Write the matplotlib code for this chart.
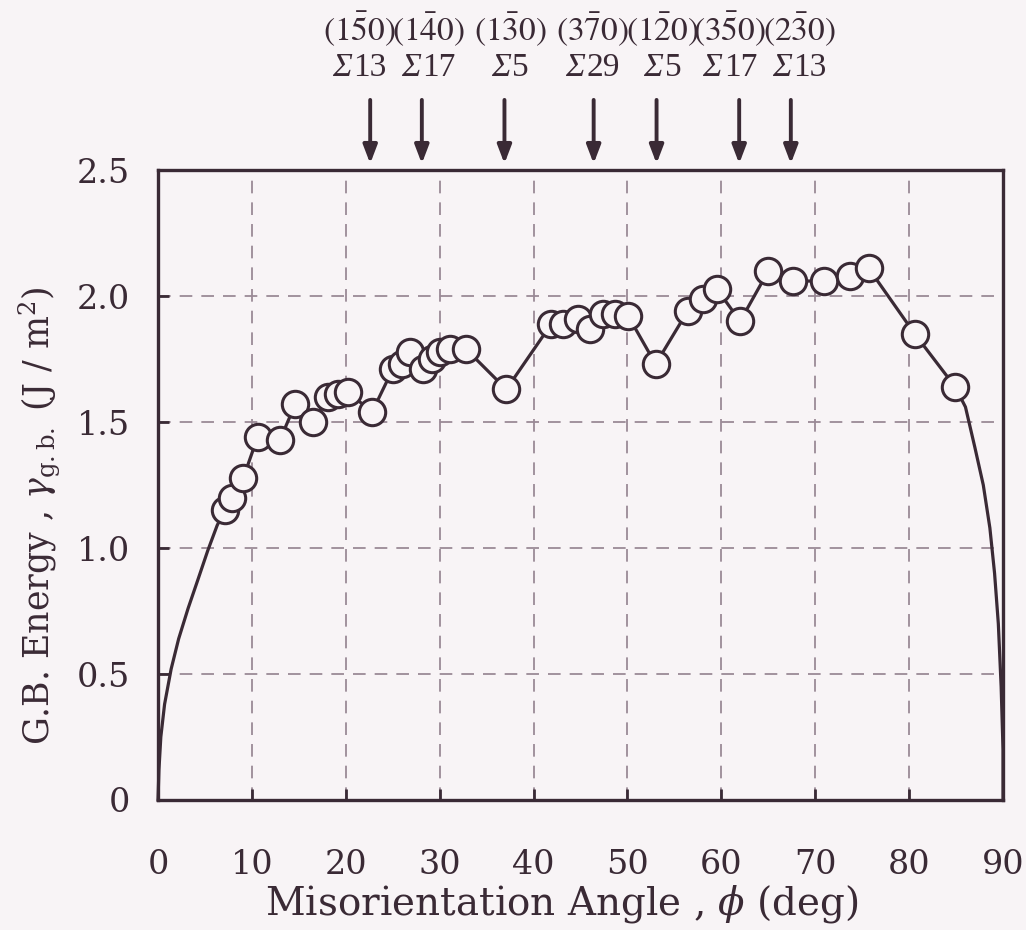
import matplotlib
matplotlib.use("Agg")
import matplotlib.pyplot as plt
from matplotlib.offsetbox import TextArea, HPacker, AnnotationBbox

plt.rcParams['font.family'] = ['DejaVu Serif']
plt.rcParams['mathtext.fontset'] = 'dejavuserif'

# measured grain boundary energies
angle = [7.1, 7.9, 9.1, 10.6, 13.0, 14.6, 16.5, 18.1, 19.2, 20.2, 22.8,
         25.0, 26.0, 26.8, 28.2, 29.2, 30.0, 31.1, 32.8, 37.1, 41.9, 43.1,
         44.7, 46.0, 47.4, 48.7, 50.1, 53.0, 56.4, 58.0, 59.5, 62.0, 65.0,
         67.6, 70.9, 73.7, 75.7, 80.6, 84.9]
energy = [1.15, 1.20, 1.28, 1.44, 1.43, 1.57, 1.50, 1.60, 1.61, 1.62, 1.54,
          1.71, 1.73, 1.78, 1.71, 1.75, 1.78, 1.79, 1.79, 1.63, 1.89, 1.89,
          1.91, 1.87, 1.93, 1.93, 1.92, 1.73, 1.94, 1.99, 2.03, 1.90, 2.10,
          2.06, 2.06, 2.08, 2.11, 1.85, 1.64]

# guide curve toward 0 and 90 deg
low_angle = [0.0, 0.1, 0.3, 0.7, 1.4, 2.2, 3.2, 4.3, 5.3, 6.3]
low_energy = [0.0, 0.12, 0.25, 0.38, 0.52, 0.64, 0.76, 0.88, 0.99, 1.09]
high_angle = [86.0, 87.0, 87.9, 88.6, 89.1, 89.5, 89.8, 90.0, 90.0]
high_energy = [1.56, 1.40, 1.25, 1.08, 0.90, 0.70, 0.45, 0.20, 0.0]

# coincidence boundaries
csl_angle = [22.6, 28.1, 36.9, 46.4, 53.1, 61.9, 67.4]
csl_label_x = [21.4, 28.8, 37.5, 46.3, 53.7, 60.9, 68.3]
csl_plane = [r'$(1\bar{5}0)$', r'$(1\bar{4}0)$', r'$(1\bar{3}0)$', r'$(3\bar{7}0)$',
             r'$(1\bar{2}0)$', r'$(3\bar{5}0)$', r'$(2\bar{3}0)$']
csl_sigma = ['13', '17', '5', '29', '5', '17', '13']

bg = '#f8f4f6'
ink = '#3a2a35'
grid_c = '#9a8a96'
ann_font = 'Liberation Serif'

fig = plt.figure(figsize=(10.26, 9.3), dpi=100, facecolor=bg)
ax = fig.add_axes([0.154, 0.1398, 0.8236, 0.6772], facecolor=bg)

curve_x = low_angle + angle + high_angle
curve_y = low_energy + energy + high_energy
ax.plot(curve_x, curve_y, color=ink, lw=2.3, zorder=3, clip_on=False)
ax.plot(angle, energy, ls='none', marker='o', ms=19, mfc=bg, mec=ink,
        mew=2.2, zorder=4)

ax.set_xlim(0, 90)
ax.set_ylim(0, 2.5)
ax.set_xticks(range(0, 91, 10))
ax.set_yticks([0, 0.5, 1.0, 1.5, 2.0, 2.5])
ax.set_yticklabels(['0', '0.5', '1.0', '1.5', '2.0', '2.5'])

for v in range(10, 90, 10):
    ax.axvline(v, color=grid_c, lw=1.3, ls=(0, (7, 5)), zorder=1)
for v in [0.5, 1.0, 1.5, 2.0]:
    ax.axhline(v, color=grid_c, lw=1.3, ls=(0, (7, 5)), zorder=1)

for s in ax.spines.values():
    s.set_linewidth(2.4)
    s.set_color(ink)

ax.tick_params(axis='both', direction='in', length=8, width=2,
               color=ink, labelsize=24, labelcolor=ink)
ax.tick_params(axis='x', pad=35)
ax.tick_params(axis='y', pad=20)

ax.set_xlabel(r'Misorientation Angle , $\phi$ (deg)', fontsize=28, color=ink)
ax.xaxis.set_label_coords(0.478, -0.132)
ax.set_ylabel(r'G.B. Energy , $\gamma_{\rm g.b.}$ (J / m$^2$)', fontsize=25,
              color=ink)
ax.yaxis.set_label_coords(-0.114, 0.452)

for a, lx, p, s in zip(csl_angle, csl_label_x, csl_plane, csl_sigma):
    ax.annotate('', xy=(a, 2.515), xytext=(a, 2.79),
                arrowprops=dict(arrowstyle='-|>,head_length=1.1,head_width=0.42',
                                color=ink, lw=2.8),
                annotation_clip=False)
    ax.text(lx, 3.06, p, ha='center', va='center', fontsize=24, color=ink,
            family=ann_font, math_fontfamily='stix')
    # italic sigma followed by upright number
    sig = HPacker(children=[
        TextArea('Σ', textprops=dict(fontsize=24, color=ink, family=ann_font,
                                     style='italic')),
        TextArea(s, textprops=dict(fontsize=24, color=ink, family=ann_font))],
        pad=0, sep=1, align='baseline')
    ab = AnnotationBbox(sig, (lx, 2.905), frameon=False, box_alignment=(0.5, 0.5),
                        annotation_clip=False, pad=0)
    ax.add_artist(ab)

fig.savefig('out.png', dpi=100, facecolor=bg)
